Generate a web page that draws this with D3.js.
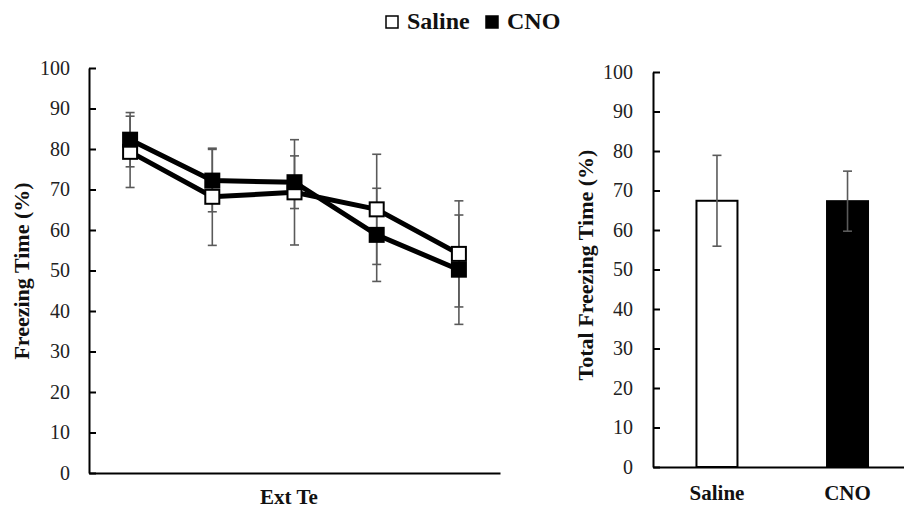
<!DOCTYPE html>
<html>
<head>
<meta charset="utf-8">
<script src="https://cdn.jsdelivr.net/npm/d3@7"></script>
<style>
  html, body { margin: 0; padding: 0; background: #fff; }
  svg { display: block; font-family: "Liberation Serif", "Times New Roman", serif; }
</style>
</head>
<body>
<svg id="chart" width="904" height="508"></svg>
<script>
// ---- Data ----
const sessions = ["1", "2", "3", "4", "5"];
const salineMean = [79.3, 68.2, 69.3, 65.1, 54.1];
const salineSEM  = [8.8, 12.0, 13.0, 13.6, 13.1];
const cnoMean    = [82.3, 72.2, 71.8, 58.8, 50.2];
const cnoSEM     = [6.7, 7.7, 6.5, 11.5, 13.5];

const groups     = ["Saline", "CNO"];
const totalMean  = [67.4, 67.3];
const totalSEM   = [11.5, 7.6];

const yTicks = [0, 10, 20, 30, 40, 50, 60, 70, 80, 90, 100];

const svg = d3.select("#chart");
const errColor = "#5a5a5a";
const serif = "Liberation Serif, Times New Roman, serif";

// ---- Left: line chart ----
const xL = d3.scalePoint().domain(sessions).range([89, 500]).padding(0.5);
const yL = d3.scaleLinear().domain([0, 100]).range([473, 68]);

const gL = svg.append("g");

gL.append("g")
  .attr("transform", "translate(89,0)")
  .call(d3.axisLeft(yL).tickValues(yTicks).tickSizeInner(-7).tickSizeOuter(0).tickPadding(19))
  .call(g => g.selectAll("path, line").attr("stroke", "#000").attr("stroke-width", 2))
  .call(g => g.selectAll("text").attr("font-size", 20).attr("fill", "#222").attr("font-family", serif));

gL.append("g")
  .attr("transform", "translate(0,473)")
  .call(d3.axisBottom(xL).tickSize(0).tickFormat(""))
  .call(g => g.selectAll("path").attr("stroke", "#000").attr("stroke-width", 2));

const series = [
  {name: "Saline", mean: salineMean, sem: salineSEM, fill: "#fff"},
  {name: "CNO", mean: cnoMean, sem: cnoSEM, fill: "#000"}
];

// error bars
series.forEach(s => {
  const eb = gL.append("g").attr("stroke", errColor).attr("stroke-width", 1.6);
  sessions.forEach((d, i) => {
    const x = xL(d), top = yL(s.mean[i] + s.sem[i]), bot = yL(s.mean[i] - s.sem[i]);
    eb.append("line").attr("x1", x).attr("x2", x).attr("y1", top).attr("y2", bot);
    eb.append("line").attr("x1", x - 4.5).attr("x2", x + 4.5).attr("y1", top).attr("y2", top);
    eb.append("line").attr("x1", x - 4.5).attr("x2", x + 4.5).attr("y1", bot).attr("y2", bot);
  });
});

// lines
const line = d3.line().x((d, i) => xL(sessions[i])).y(d => yL(d));
series.forEach(s => {
  gL.append("path").datum(s.mean)
    .attr("d", line).attr("fill", "none").attr("stroke", "#000").attr("stroke-width", 5);
});

// markers
series.forEach(s => {
  gL.append("g").selectAll("rect").data(s.mean).join("rect")
    .attr("x", (d, i) => xL(sessions[i]) - 7)
    .attr("y", d => yL(d) - 7)
    .attr("width", 14).attr("height", 14)
    .attr("fill", s.fill).attr("stroke", "#000").attr("stroke-width", 2);
});

gL.append("text").attr("x", 289).attr("y", 504).attr("text-anchor", "middle")
  .attr("font-weight", "bold").attr("font-size", 21).attr("fill", "#111").text("Ext Te");

gL.append("text").attr("transform", "translate(21,271) rotate(-90)")
  .attr("text-anchor", "middle").attr("dominant-baseline", "central")
  .attr("font-weight", "bold").attr("font-size", 22).attr("fill", "#111").text("Freezing Time (%)");

// ---- Right: bar chart ----
const xR = d3.scaleBand().domain(groups).range([653, 911.5]).paddingInner(0.686).paddingOuter(0.333);
const yR = d3.scaleLinear().domain([0, 100]).range([467, 72]);

const gR = svg.append("g");

gR.append("g")
  .attr("transform", "translate(653,0)")
  .call(d3.axisLeft(yR).tickValues(yTicks).tickSizeInner(-7).tickSizeOuter(0).tickPadding(20))
  .call(g => g.selectAll("path, line").attr("stroke", "#000").attr("stroke-width", 2))
  .call(g => g.selectAll("text").attr("font-size", 20).attr("fill", "#222").attr("font-family", serif));

gR.selectAll("rect.bar").data(groups).join("rect").attr("class", "bar")
  .attr("x", d => xR(d)).attr("width", xR.bandwidth())
  .attr("y", (d, i) => yR(totalMean[i]))
  .attr("height", (d, i) => yR(0) - yR(totalMean[i]))
  .attr("fill", (d, i) => i === 0 ? "#fff" : "#000")
  .attr("stroke", "#000").attr("stroke-width", 2);

const ebR = gR.append("g").attr("stroke", errColor).attr("stroke-width", 1.6);
groups.forEach((d, i) => {
  const x = xR(d) + xR.bandwidth() / 2;
  const top = yR(totalMean[i] + totalSEM[i]), bot = yR(totalMean[i] - totalSEM[i]);
  ebR.append("line").attr("x1", x).attr("x2", x).attr("y1", top).attr("y2", bot);
  ebR.append("line").attr("x1", x - 4.5).attr("x2", x + 4.5).attr("y1", top).attr("y2", top);
  ebR.append("line").attr("x1", x - 4.5).attr("x2", x + 4.5).attr("y1", bot).attr("y2", bot);
});

gR.append("g")
  .attr("transform", "translate(0,467)")
  .call(d3.axisBottom(xR).tickSize(0).tickPadding(18))
  .call(g => g.selectAll("path").attr("stroke", "#000").attr("stroke-width", 2))
  .call(g => g.selectAll("text").attr("font-size", 21).attr("font-weight", "bold").attr("fill", "#111").attr("font-family", serif));

gR.append("text").attr("transform", "translate(585,265) rotate(-90)")
  .attr("text-anchor", "middle").attr("dominant-baseline", "central")
  .attr("font-weight", "bold").attr("font-size", 22).attr("fill", "#111").text("Total Freezing Time (%)");

// ---- Legend ----
const legend = svg.append("g");
const legendItems = [
  {name: "Saline", fill: "#fff", x: 385},
  {name: "CNO", fill: "#000", x: 485}
];
legendItems.forEach(it => {
  legend.append("rect").attr("x", it.x + 1).attr("y", 16).attr("width", 12).attr("height", 12)
    .attr("fill", it.fill).attr("stroke", "#000").attr("stroke-width", 1.5);
  legend.append("text").attr("x", it.x + 22).attr("y", 29)
    .attr("font-weight", "bold").attr("font-size", 24).attr("fill", "#111").text(it.name);
});
</script>
</body>
</html>
